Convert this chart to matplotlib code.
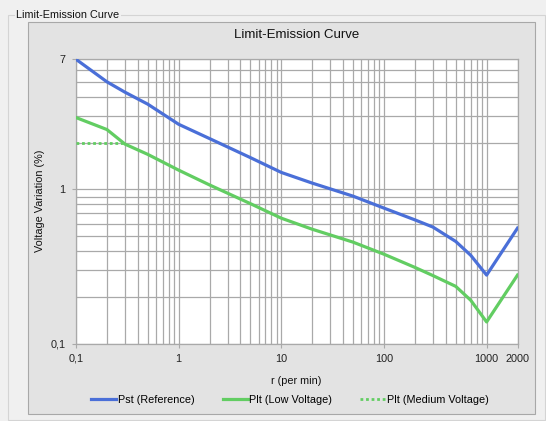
import numpy as np
import matplotlib
matplotlib.use("Agg")
import matplotlib.pyplot as plt
from matplotlib.patches import Rectangle
from matplotlib.ticker import FixedLocator, NullFormatter

plt.rcParams['font.family'] = ['Liberation Sans', 'DejaVu Sans']

# ---- data ----
r_pst = [0.1, 0.2, 0.3, 0.5, 1, 2, 5, 10, 20, 50, 100, 200, 300, 500, 700, 1000, 2000]
pst_ref = [7.0, 5.0, 4.28, 3.58, 2.65, 2.14, 1.61, 1.29, 1.10, 0.905, 0.757, 0.635, 0.57,
           0.46, 0.374, 0.278, 0.561]
r_plt = [0.1, 0.2, 0.3, 0.5, 1, 2, 5, 10, 20, 50, 100, 200, 300, 500, 700, 1000, 2000]
plt_low = [2.93, 2.45, 1.97, 1.69, 1.335, 1.07, 0.809, 0.651, 0.552, 0.455, 0.38, 0.312,
           0.276, 0.235, 0.191, 0.138, 0.278]
r_med = [0.1, 0.29]
plt_med = [2.0, 2.0]

x_ticks = [0.1, 1, 10, 100, 1000, 2000]
x_ticklabels = ["0,1", "1", "10", "100", "1000", "2000"]
y_ticks = [0.1, 1, 7]
y_ticklabels = ["0,1", "1", "7"]

title = "Limit-Emission Curve"
group_title = "Limit-Emission Curve"
xlabel = "r (per min)"
ylabel = "Voltage Variation (%)"
series_names = ["Pst (Reference)", "Plt (Low Voltage)", "Plt (Medium Voltage)"]

# ---- figure ----
W, H = 546, 421
fig = plt.figure(figsize=(W / 100, H / 100), dpi=100)
fig.patch.set_facecolor('#f0f0f0')

def fx(px):
    return px / W

def fy(py):
    return 1 - py / H

# group box
fig.add_artist(Rectangle((fx(8), fy(420)), fx(537), (420 - 15) / H, transform=fig.transFigure,
                         facecolor='none', edgecolor='#d4d4d4', lw=0.8, zorder=0))
fig.text(fx(16), fy(15), group_title, fontsize=7.8, va='center', ha='left', color='#111111',
         bbox=dict(facecolor='#f0f0f0', edgecolor='none', pad=1))
# inner chart panel
fig.add_artist(Rectangle((fx(28), fy(414)), fx(507), (414 - 22) / H, transform=fig.transFigure,
                         facecolor='#e3e3e3', edgecolor='#a8a8a8', lw=0.8, zorder=0))

ax = fig.add_axes([fx(76), fy(343.5), fx(517.5 - 76), (343.5 - 59.3) / H])
ax.set_facecolor('white')
ax.set_xscale('log')
ax.set_yscale('log')
ax.set_xlim(0.1, 2000)
ax.set_ylim(0.1, 7)

blue = '#4a6fd8'
green = '#62cd62'
ax.plot(r_pst, pst_ref, color=blue, lw=2.3, label=series_names[0], zorder=3,
        solid_joinstyle='round')
ax.plot(r_plt, plt_low, color=green, lw=2.3, label=series_names[1], zorder=3,
        solid_joinstyle='round')
ax.plot(r_med, plt_med, color=green, lw=2.0, ls=(0, (1, 1)), label=series_names[2], zorder=3)

# ticks & grid
ax.xaxis.set_major_locator(FixedLocator(x_ticks))
ax.set_xticklabels(x_ticklabels)
xminor = [m * 10.0 ** e for e in range(-1, 3) for m in range(2, 10)]
ax.xaxis.set_minor_locator(FixedLocator(xminor))
ax.xaxis.set_minor_formatter(NullFormatter())
ax.yaxis.set_major_locator(FixedLocator(y_ticks))
ax.set_yticklabels(y_ticklabels)
yminor = [m * 0.1 for m in range(2, 10)] + [float(m) for m in range(2, 7)]
ax.yaxis.set_minor_locator(FixedLocator(yminor))
ax.yaxis.set_minor_formatter(NullFormatter())

gcol = '#a9a9a9'
ax.grid(True, which='both', color=gcol, lw=0.9)
ax.tick_params(which='major', length=3, color=gcol, labelsize=7.8, pad=4.5, labelcolor='#222222')
ax.tick_params(which='minor', length=0)
for s in ax.spines.values():
    s.set_color(gcol)
    s.set_linewidth(0.9)

fig.text(fx(296.5), fy(35), title, fontsize=9.5, ha='center', va='center', color='#111111')
fig.text(fx(296.5), fy(381), xlabel, fontsize=7.8, ha='center', va='center', color='#111111')
fig.text(fx(40), fy(201), ylabel, fontsize=7.8, ha='center', va='center', rotation=90,
         color='#111111')

leg = fig.legend(loc='center', bbox_to_anchor=(fx(290), fy(400)), ncol=3, frameon=False,
                 fontsize=7.8, handlelength=2.3, handletextpad=0.15, columnspacing=2.6,
                 borderaxespad=0)

fig.savefig('out.png', dpi=100, facecolor=fig.get_facecolor())
